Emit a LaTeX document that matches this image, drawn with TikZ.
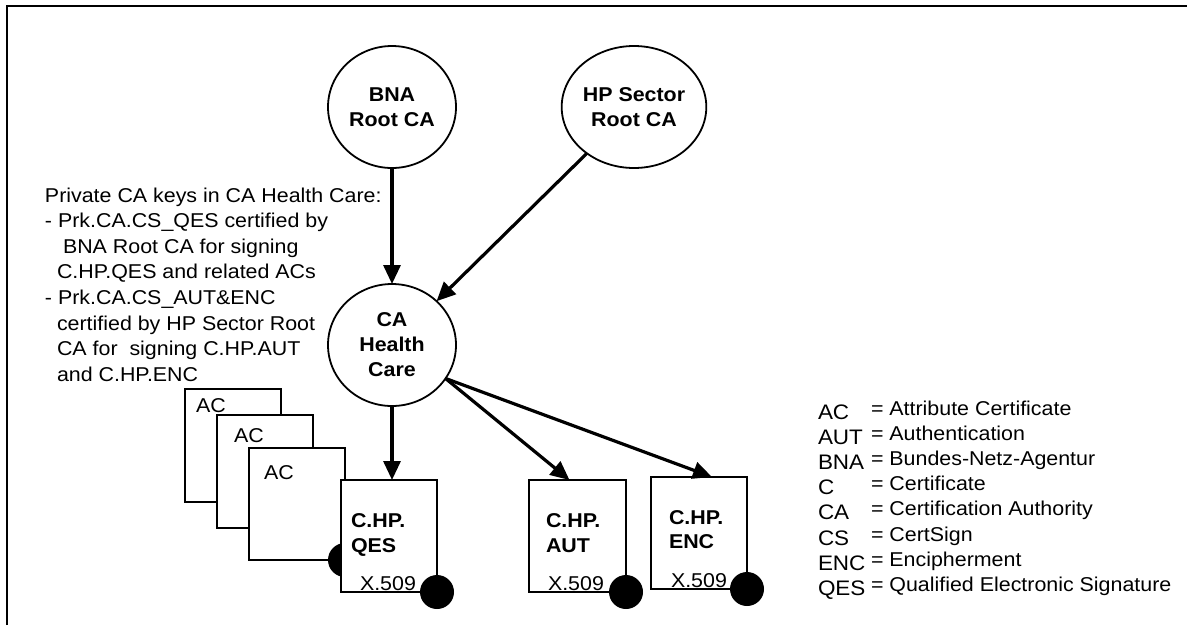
\documentclass[tikz,border=0pt]{standalone}
\usepackage{fontspec}
\setmainfont[FakeStretch=1.07]{Liberation Sans}
\usetikzlibrary{shapes.geometric,arrows.meta,calc}
\begin{document}
\begin{tikzpicture}[x=1pt,y=-1pt,
  every node/.style={inner sep=0pt, outer sep=0pt},
  rootca/.style={ellipse, draw, line width=1.8pt, fill=white, minimum width=128pt, minimum height=122pt, align=center, font=\fontsize{20}{25}\selectfont\bfseries},
  cert/.style={rectangle, draw, line width=2pt, fill=white, minimum width=96pt, minimum height=112pt},
  seal/.style={circle, fill=black, minimum size=34pt},
  arr/.style={line width=3.2pt, -{Triangle[length=19pt,width=17pt]}},
  txt/.style={anchor=base west, font=\fontsize{20}{25}\selectfont},
  btxt/.style={anchor=base west, font=\fontsize{20}{25}\selectfont\bfseries},
  abbr/.style={anchor=base west, font=\fontsize{21}{25}\selectfont},
]
\useasboundingbox (0,0) rectangle (1187,625);
\fill[white] (0,0) rectangle (1187,625);
% frame
\draw[line width=2pt] (6.7,625) -- (6.7,6) -- (1187,6);

% circles
\node[rootca] (bna) at (392,107) {BNA\\Root CA};
\node[rootca] (hp) at (634,107) {HP Sector\\Root CA};
\node[rootca] (ca) at (392,345) {CA\\Health\\Care};

% left text
\node[txt] (k1) at (45,202) {Private CA keys in CA Health Care:};
\node[txt] (k2) at (45,227.6) {- Prk.CA.CS\_QES certified by};
\node[txt] (k3) at (63,253.2) {BNA Root CA for signing};
\node[txt] (k4) at (57,278.8) {C.HP.QES and related ACs};
\node[txt] (k5) at (45,304.4) {- Prk.CA.CS\_AUT\&ENC};
\node[txt] (k6) at (57,330) {certified by HP Sector Root};
\node[txt] (k7) at (57,355.6) {CA for\ \ signing C.HP.AUT};
\node[txt] (k8) at (57,381.2) {and C.HP.ENC};

% attribute certificates
\node[cert, minimum height=113pt] (ac1) at (233,445.5) {};
\node[seal] (ac1s) at (ac1.south east) {};
\node[txt] (ac1t) at (196,412) {AC};
\node[cert, minimum height=113pt] (ac2) at (265,471.5) {};
\node[seal] (ac2s) at (ac2.south east) {};
\node[txt] (ac2t) at (234,442) {AC};
\node[cert] (ac3) at (297,504) {};
\node[seal] (ac3s) at (ac3.south east) {};
\node[txt] (ac3t) at (264,479) {AC};

% certificates
\node[cert] (qes) at (389,536) {};
\node[seal] (qess) at (qes.south east) {};
\node[btxt] (qes1) at (351,527) {C.HP.};
\node[btxt] (qes2) at (351,552) {QES};
\node[txt] (qes3) at (360,590) {X.509};

\node[cert, minimum width=97pt] (aut) at (577.5,536) {};
\node[seal] (auts) at (aut.south east) {};
\node[btxt] (aut1) at (546,527) {C.HP.};
\node[btxt] (aut2) at (546,552) {AUT};
\node[txt] (aut3) at (548,590) {X.509};

\node[cert] (enc) at (699,533) {};
\node[seal] (encs) at (enc.south east) {};
\node[btxt] (enc1) at (669,524) {C.HP.};
\node[btxt] (enc2) at (669,548) {ENC};
\node[txt] (enc3) at (671,587) {X.509};

% arrows
\draw[arr] (bna) -- (ca);
\draw[arr] (hp) -- (ca);
\draw[arr] (ca.south) -- (ca.south |- qes.north);
\coordinate (autin) at ([xshift=-8pt]aut.north);
\coordinate (encin) at ([xshift=13pt]enc.north);
\draw[arr] (ca.-32) -- (autin);
\draw[arr] (ca.-32) -- (encin);

% legend
\foreach \a/\d [count=\i] in {AC/Attribute Certificate, AUT/Authentication, BNA/Bundes-Netz-Agentur, C/Certificate, CA/Certification Authority, CS/CertSign, ENC/Encipherment, QES/Qualified Electronic Signature}{
  \node[abbr] (la\i) at (818,{419+25.2*(\i-1)}) {\a};
  \node[txt] (ld\i) at (871,{415+25.2*(\i-1)}) {= \d};
}
\end{tikzpicture}
\end{document}
